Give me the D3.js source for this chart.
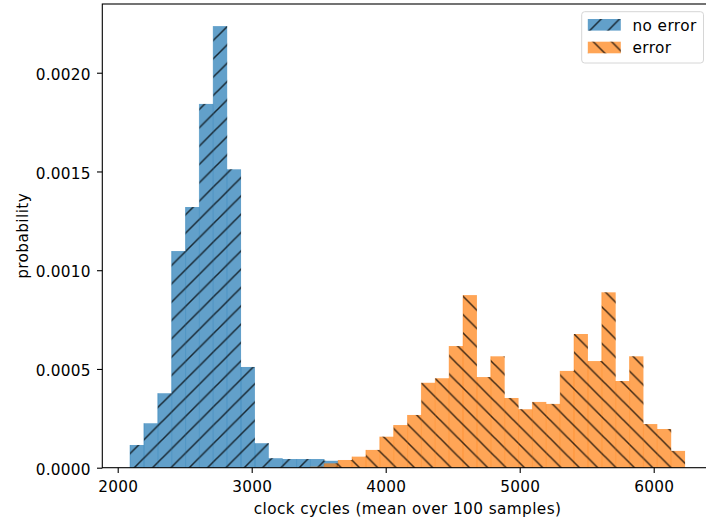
<!DOCTYPE html>
<html>
<head>
<meta charset="utf-8">
<script src="https://cdn.jsdelivr.net/npm/d3@7"></script>
<style>
  body { margin: 0; background: #fff; }
  svg { display: block; font-family: 'DejaVu Sans', sans-serif; }
  svg text { letter-spacing: 0.4px; }
</style>
</head>
<body>
<svg width="706" height="524"></svg>
<script>
// histogram data (density, shared bins)
var binStart = 2092;
var binWidth = 103.55;
var binCount = 40;

// "no error" occupies bins 0..14
var noErrorFirstBin = 0;
var noError = [0.000115, 0.000225, 0.000377, 0.001097, 0.001320, 0.001842,
  0.002236, 0.001511, 0.000510, 0.000124, 0.000048, 0.000044, 0.000044,
  0.000044, 0.000035];

// "error" occupies bins 13..39
var errorFirstBin = 13;
var errorVals = [0.000005, 0.000022, 0.000039, 0.000056, 0.000090, 0.000157,
  0.000216, 0.000267, 0.000430, 0.000453, 0.000616, 0.000874, 0.000459,
  0.000564, 0.000353, 0.000296, 0.000333, 0.000323, 0.000490, 0.000677,
  0.000540, 0.000888, 0.000439, 0.000564, 0.000221, 0.000196, 0.000085];

var xTicks = [2000, 3000, 4000, 5000, 6000];
var yTicks = [0, 0.0005, 0.001, 0.0015, 0.002];
var seriesNames = ['no error', 'error'];

var svg = d3.select('svg');

// plot area (window.top is reserved, so use a prefix)
var plotLeft = 102.3, plotRight = 712.8, plotTop = 4, plotBottom = 467.7;

var x = d3.scaleLinear().domain([1885, 6441]).range([plotLeft, plotRight]);
var y = d3.scaleLinear().domain([0, 0.002348]).range([plotBottom, plotTop]);

var edges = d3.range(binCount + 1).map(function (i) {
  return binStart + i * binWidth;
});

//////////// HATCH PATTERNS ////////////

var s = 18.33;
var defs = svg.append('defs');

defs.append('pattern')
  .attr('id', 'hatch-fwd')
  .attr('patternUnits', 'userSpaceOnUse')
  .attr('x', 15.4).attr('y', 0)
  .attr('width', s).attr('height', s)
  .append('path')
  .attr('d', 'M-1,1L1,-1M0,' + s + 'L' + s + ',0M' + (s - 1) + ',' + (s + 1) + 'L' + (s + 1) + ',' + (s - 1))
  .attr('stroke', '#000')
  .attr('stroke-opacity', 0.75)
  .attr('stroke-width', 1.5);

defs.append('pattern')
  .attr('id', 'hatch-back')
  .attr('patternUnits', 'userSpaceOnUse')
  .attr('x', 0).attr('y', 16.6)
  .attr('width', s).attr('height', s)
  .append('path')
  .attr('d', 'M0,0L' + s + ',' + s + 'M-1,' + (s - 1) + 'L1,' + (s + 1) + 'M' + (s - 1) + ',-1L' + (s + 1) + ',1')
  .attr('stroke', '#000')
  .attr('stroke-opacity', 0.75)
  .attr('stroke-width', 1.5);

//////////// BARS ////////////

function drawHist(values, firstBin, color, hatchId) {
  var bars = values.map(function (v, i) {
    return { x0: edges[firstBin + i], x1: edges[firstBin + i + 1], v: v };
  });
  var g = svg.append('g');
  g.selectAll('rect.face')
    .data(bars)
    .enter()
    .append('rect')
    .attr('class', 'face')
    .attr('x', function (d) { return x(d.x0); })
    .attr('width', function (d) { return x(d.x1) - x(d.x0); })
    .attr('y', function (d) { return y(d.v); })
    .attr('height', function (d) { return y(0) - y(d.v); })
    .attr('fill', color)
    .attr('fill-opacity', 0.7);
  // faint seams between neighbouring bars
  g.selectAll('line.seam')
    .data(bars)
    .enter()
    .append('line')
    .attr('class', 'seam')
    .attr('x1', function (d) { return x(d.x0); })
    .attr('x2', function (d) { return x(d.x0); })
    .attr('y1', function (d) { return y(d.v); })
    .attr('y2', y(0))
    .attr('stroke', color)
    .attr('stroke-opacity', 0.45)
    .attr('stroke-width', 1);
  g.selectAll('rect.hatch')
    .data(bars)
    .enter()
    .append('rect')
    .attr('class', 'hatch')
    .attr('x', function (d) { return x(d.x0); })
    .attr('width', function (d) { return x(d.x1) - x(d.x0); })
    .attr('y', function (d) { return y(d.v); })
    .attr('height', function (d) { return y(0) - y(d.v); })
    .attr('fill', 'url(#' + hatchId + ')');
}

drawHist(noError, noErrorFirstBin, '#1f77b4', 'hatch-fwd');
drawHist(errorVals, errorFirstBin, '#ff7f0e', 'hatch-back');

//////////// AXES ////////////

var fontSize = 15.3;

var xAxis = svg.append('g')
  .attr('transform', 'translate(0,' + plotBottom + ')')
  .call(d3.axisBottom(x).tickValues(xTicks).tickSize(5.3).tickPadding(8)
    .tickFormat(d3.format('d')));

var yAxis = svg.append('g')
  .attr('transform', 'translate(' + plotLeft + ',0)')
  .call(d3.axisLeft(y).tickValues(yTicks).tickSize(5.3).tickPadding(6.2)
    .tickFormat(d3.format('.4f')));

[xAxis, yAxis].forEach(function (a) {
  a.select('.domain').remove();
  a.selectAll('line').attr('stroke', '#000').attr('stroke-width', 1.1);
  a.selectAll('text')
    .attr('fill', '#000')
    .style('font-family', 'DejaVu Sans')
    .style('font-size', fontSize + 'px')
    .style('letter-spacing', '0.25px');
});
yAxis.selectAll('text').attr('dy', '0.43em');

// frame
svg.append('rect')
  .attr('x', plotLeft).attr('y', plotTop)
  .attr('width', plotRight - plotLeft).attr('height', plotBottom - plotTop)
  .attr('fill', 'none')
  .attr('stroke', '#000')
  .attr('stroke-width', 1.1);

svg.append('text')
  .attr('x', (plotLeft + plotRight) / 2)
  .attr('y', 514)
  .attr('text-anchor', 'middle')
  .style('font-size', fontSize + 'px')
  .text('clock cycles (mean over 100 samples)');

svg.append('text')
  .attr('transform', 'translate(28,' + (plotTop + plotBottom) / 2 + ') rotate(-90)')
  .attr('text-anchor', 'middle')
  .style('font-size', fontSize + 'px')
  .text('probability');

//////////// LEGEND ////////////

var legend = svg.append('g');
legend.append('rect')
  .attr('x', 581.7).attr('y', 11.7)
  .attr('width', 121.8).attr('height', 51.3)
  .attr('rx', 3)
  .attr('fill', '#fff').attr('fill-opacity', 0.8)
  .attr('stroke', '#d6d6d6');

var legendItems = [
  { name: seriesNames[0], color: '#1f77b4', hatch: 'hatch-fwd', y: 19 },
  { name: seriesNames[1], color: '#ff7f0e', hatch: 'hatch-back', y: 41.7 }
];

legendItems.forEach(function (d) {
  legend.append('rect')
    .attr('x', 587.8).attr('y', d.y)
    .attr('width', 33).attr('height', 11.6)
    .attr('fill', d.color).attr('fill-opacity', 0.7);
  legend.append('rect')
    .attr('x', 587.8).attr('y', d.y)
    .attr('width', 33).attr('height', 11.6)
    .attr('fill', 'url(#' + d.hatch + ')');
  legend.append('text')
    .attr('x', 632.5)
    .attr('y', d.y + 11.7)
    .style('font-size', fontSize + 'px')
    .text(d.name);
});
</script>
</body>
</html>
